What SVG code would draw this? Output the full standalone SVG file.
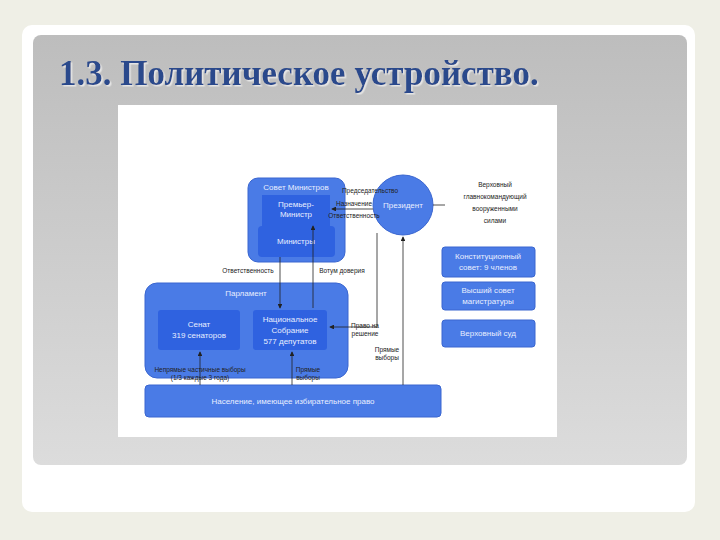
<svg xmlns="http://www.w3.org/2000/svg" width="720" height="540" viewBox="0 0 720 540">
<defs>
<linearGradient id="g" x1="0" y1="0" x2="0" y2="1"><stop offset="0" stop-color="#bdbdbd"/><stop offset="1" stop-color="#dcdcdc"/></linearGradient>
<marker id="a" markerWidth="6" markerHeight="6" refX="5" refY="3" orient="auto"><path d="M0,0L6,3L0,6z" fill="#222"/></marker>
<filter id="sh"><feDropShadow dx="1.5" dy="1.5" stdDeviation="0.5" flood-color="#fff" flood-opacity="0.6"/></filter>
<style>
.b{fill:#4a7be6;stroke:#3a66d0;stroke-width:1}
.i{fill:#2f62e0}
.w{font-family:"Liberation Sans",Arial,sans-serif;font-size:8px;fill:#e8eeff;text-anchor:middle}
.k{font-family:"Liberation Sans",Arial,sans-serif;font-size:6.5px;fill:#222;text-anchor:middle}
.l{stroke:#222;stroke-width:0.8;fill:none}
</style>
</defs>
<rect width="720" height="540" fill="#efefe6"/>
<rect x="22" y="25" width="673" height="487" rx="10" fill="#fff"/>
<rect x="33" y="35" width="654" height="430" rx="8" fill="url(#g)"/>
<text x="59" y="85" font-family="Liberation Serif,serif" font-size="35" font-weight="bold" fill="#2b4a8c" filter="url(#sh)">1.3. Политическое устройство.</text>
<rect x="118" y="105" width="439" height="332" fill="#fff"/>
<g id="sovmin"><rect class="b" x="248" y="178" width="97" height="84" rx="10"/><text class="w" x="296" y="190">Совет Министров</text>
<rect class="i" x="262" y="195" width="68" height="31"/><text class="w" x="296" y="207">Премьер-</text><text class="w" x="296" y="217">Министр</text>
<rect class="i" x="258" y="226" width="77" height="31" rx="4"/><text class="w" x="296" y="244">Министры</text></g>
<g id="president"><circle class="b" cx="403" cy="205" r="30"/><text class="w" x="403" y="208">Президент</text></g>
<g id="verh"><text class="k" x="495" y="187" font-size="7.5">Верховный</text><text class="k" x="495" y="199" font-size="7.5">главнокомандующий</text><text class="k" x="495" y="211" font-size="7.5">вооруженными</text><text class="k" x="495" y="223" font-size="7.5">силами</text></g>
<g id="konst"><rect class="b" x="442" y="247" width="93" height="30" rx="3"/><text class="w" x="488" y="259">Конституционный</text><text class="w" x="488" y="270">совет: 9 членов</text></g>
<g id="vsm"><rect class="b" x="442" y="282" width="93" height="28" rx="3"/><text class="w" x="488" y="293">Высший совет</text><text class="w" x="488" y="304">магистратуры</text></g>
<g id="vs"><rect class="b" x="442" y="320" width="93" height="27" rx="3"/><text class="w" x="488" y="336">Верховный суд</text></g>
<g id="parl"><rect class="b" x="145" y="283" width="203" height="95" rx="12"/><text class="w" x="246" y="296">Парламент</text>
<rect class="i" x="158" y="310" width="82" height="40" rx="3"/><text class="w" x="199" y="327">Сенат</text><text class="w" x="199" y="338">319 сенаторов</text>
<rect class="i" x="253" y="310" width="74" height="40" rx="3"/><text class="w" x="290" y="322">Национальное</text><text class="w" x="290" y="333">Собрание</text><text class="w" x="290" y="344">577 депутатов</text></g>
<g id="nas"><rect class="b" x="145" y="385" width="296" height="32" rx="4"/><text class="w" x="293" y="404">Население, имеющее избирательное право</text></g>
<g id="conn">
<path class="l" d="M280,257V308" marker-end="url(#a)"/>
<path class="l" d="M313,308V226" marker-end="url(#a)"/>
<path class="l" d="M377,233V327H330" marker-end="url(#a)"/>
<path class="l" d="M403,385V237" marker-end="url(#a)"/>
<path class="l" d="M373,209H332" marker-end="url(#a)"/>
<path class="l" d="M433,205H445"/>
<path class="l" d="M200,385V352" marker-end="url(#a)"/>
<path class="l" d="M292,385V352" marker-end="url(#a)"/>
</g>
<g id="labels">
<text class="k" x="370" y="193">Председательство</text><text class="k" x="354" y="206">Назначение</text><text class="k" x="354" y="218">Ответственность</text>
<text class="k" x="248" y="273">Ответственность</text><text class="k" x="342" y="273">Вотум доверия</text>
<text class="k" x="365" y="328">Право на</text><text class="k" x="365" y="336">решение</text>
<text class="k" x="387" y="352">Прямые</text><text class="k" x="387" y="360">выборы</text>
<text class="k" x="200" y="372">Непрямые частичные выборы</text><text class="k" x="200" y="380">(1/3 каждые 3 года)</text>
<text class="k" x="308" y="372">Прямые</text><text class="k" x="308" y="380">выборы</text>
</g>
</svg>
